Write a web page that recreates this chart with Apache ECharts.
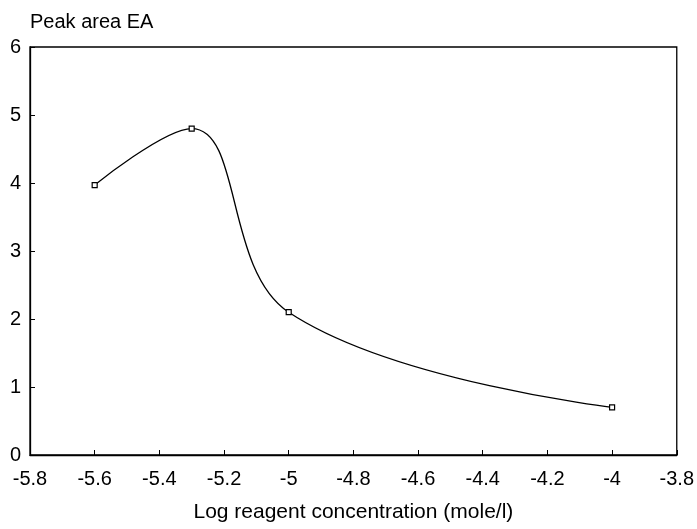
<!DOCTYPE html>
<html><head><meta charset="utf-8">
<script src="https://cdn.jsdelivr.net/npm/echarts@6/dist/echarts.min.js"></script>
<style>html,body{margin:0;padding:0;background:#fff}#c{width:697px;height:529px}</style>
</head><body><div id="c"></div>
<script>
const xValues = [-5.6, -5.3, -5.0, -4.0];
const yValues = [3.97, 4.8, 2.1, 0.7];
const xAxisTitle = 'Log reagent concentration (mole/l)';
const yAxisTitle = 'Peak area EA';

const chart = echarts.init(document.getElementById('c'), null, {renderer: 'canvas'});
const font = 'Liberation Sans, Arial, sans-serif';
chart.setOption({
  animation: false,
  backgroundColor: '#fff',
  grid: {left: 30, right: 19, top: 47, bottom: 74, show: true, borderColor: '#000', borderWidth: 1.3},
  xAxis: {
    type: 'value', min: -5.8, max: -3.8, interval: 0.2,
    name: xAxisTitle, nameLocation: 'middle', nameGap: 47,
    nameTextStyle: {fontFamily: font, fontSize: 21, color: '#000'},
    axisLine: {lineStyle: {color: '#000', width: 1.3}},
    axisTick: {inside: true, length: 5, lineStyle: {color: '#000'}},
    axisLabel: {fontFamily: font, fontSize: 20, color: '#000', margin: 14,
      formatter: v => String(Math.round(v * 10) / 10)},
    splitLine: {show: false}
  },
  yAxis: {
    type: 'value', min: 0, max: 6, interval: 1,
    name: yAxisTitle, nameLocation: 'end', nameGap: 15,
    nameTextStyle: {fontFamily: font, fontSize: 20, color: '#000', align: 'left'},
    axisLine: {lineStyle: {color: '#000', width: 1.3}},
    axisTick: {inside: true, length: 5, lineStyle: {color: '#000'}},
    axisLabel: {fontFamily: font, fontSize: 20, color: '#000', margin: 9},
    splitLine: {show: false}
  },
  series: [{
    type: 'line',
    data: xValues.map((x, i) => [x, yValues[i]]),
    smooth: 0.4,
    symbol: 'rect', symbolSize: 5,
    itemStyle: {color: '#fff', borderColor: '#000', borderWidth: 1.2},
    lineStyle: {color: '#000', width: 1.3}
  }]
});
</script></body></html>
